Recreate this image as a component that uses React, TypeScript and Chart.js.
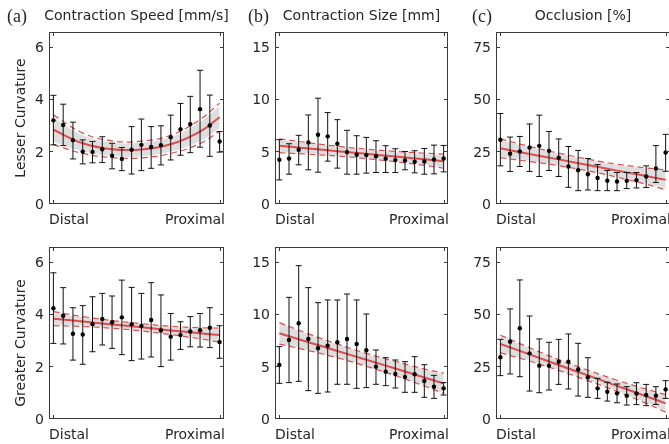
import React, { useEffect, useRef } from "react";
import { Chart, registerables } from "chart.js";
Chart.register(...registerables);

// ---- shared axes data ----
const positions = [1, 2, 3, 4, 5, 6, 7, 8, 9, 10, 11, 12, 13, 14, 15, 16, 17, 18];
const fitX = [1, 4, 7, 10, 13, 16, 18];
const speedTicks = [0, 2, 4, 6];
const sizeTicks = [0, 5, 10, 15];
const occlusionTicks = [0, 25, 50, 75];
const xStartLabel = "Distal";
const xEndLabel = "Proximal";

// ---- (a) Contraction speed, lesser curvature ----
const speedLesserMean = [3.21, 3.03, 2.45, 2.01, 2.0, 2.1, 1.85, 1.73, 2.08, 2.27, 2.19, 2.26, 2.56, 2.87, 3.06, 3.64, 3.01, 2.4];
const speedLesserHigh = [4.17, 3.83, 3.14, 2.46, 2.4, 2.58, 2.33, 2.17, 2.97, 3.26, 2.97, 3.0, 3.41, 3.86, 4.13, 5.13, 4.18, 2.78];
const speedLesserLow = [2.27, 2.24, 1.73, 1.54, 1.58, 1.59, 1.35, 1.28, 1.15, 1.28, 1.37, 1.5, 1.69, 1.87, 1.97, 2.18, 1.83, 1.99];
const speedLesserFit = [2.85, 2.33, 2.1, 2.09, 2.29, 2.78, 3.33];
const speedLesserFitUp = [3.42, 2.72, 2.42, 2.41, 2.64, 3.24, 3.87];
const speedLesserFitLow = [2.28, 1.94, 1.78, 1.77, 1.94, 2.32, 2.79];
const speedLesserBandUp = [3.31, 2.64, 2.36, 2.35, 2.57, 3.15, 3.76];
const speedLesserBandLow = [2.39, 2.02, 1.84, 1.83, 2.01, 2.41, 2.9];

// ---- (b) Contraction size, lesser curvature ----
const sizeLesserMean = [4.24, 4.37, 5.2, 5.91, 6.65, 6.49, 5.78, 4.98, 4.72, 4.69, 4.59, 4.34, 4.21, 4.18, 4.05, 4.08, 4.27, 4.37];
const sizeLesserHigh = [6.17, 5.78, 6.59, 8.54, 10.15, 8.77, 8.09, 7.07, 6.55, 6.39, 6.07, 5.59, 5.3, 5.04, 5.11, 5.33, 5.65, 5.62];
const sizeLesserLow = [2.31, 2.86, 3.76, 3.28, 3.05, 4.11, 3.44, 2.86, 2.86, 2.96, 3.02, 3.02, 3.02, 3.28, 2.99, 2.86, 2.89, 3.08];
const sizeLesserFit = [5.59, 5.33, 5.07, 4.81, 4.55, 4.29, 4.11];
const sizeLesserFitUp = [6.26, 5.88, 5.54, 5.26, 5.04, 4.87, 4.79];
const sizeLesserFitLow = [4.92, 4.78, 4.6, 4.36, 4.06, 3.71, 3.43];
const sizeLesserBandUp = [6.16, 5.8, 5.47, 5.19, 4.97, 4.78, 4.69];
const sizeLesserBandLow = [5.02, 4.86, 4.67, 4.43, 4.13, 3.8, 3.53];

// ---- (c) Occlusion, lesser curvature ----
const occLesserMean = [30.8, 24.1, 25.2, 27.1, 27.9, 25.5, 22.2, 18.0, 16.2, 14.3, 12.5, 11.2, 10.8, 11.1, 11.4, 13.2, 17.0, 24.7];
const occLesserHigh = [43.4, 32.1, 32.4, 38.4, 42.6, 34.8, 31.2, 27.6, 25.7, 21.8, 18.9, 16.1, 15.1, 15.1, 15.1, 18.3, 28.0, 33.4];
const occLesserLow = [18.3, 15.6, 18.0, 15.6, 13.2, 16.1, 13.2, 8.0, 6.4, 6.7, 6.4, 6.4, 6.4, 7.4, 7.7, 7.9, 10.3, 15.7];
const occLesserFit = [26.7, 24.0, 21.4, 18.7, 16.0, 13.4, 11.6];
const occLesserFitUp = [31.2, 27.6, 24.4, 21.5, 19.1, 17.3, 16.4];
const occLesserFitLow = [22.2, 20.4, 18.4, 15.9, 12.9, 9.5, 6.8];
const occLesserBandUp = [30.7, 27.2, 24.1, 21.2, 18.8, 16.9, 15.9];
const occLesserBandLow = [22.7, 20.8, 18.7, 16.2, 13.2, 9.9, 7.3];

// ---- (a) Contraction speed, greater curvature ----
const speedGreaterMean = [4.25, 3.96, 3.27, 3.24, 3.64, 3.84, 3.71, 3.9, 3.64, 3.57, 3.8, 3.4, 3.16, 3.22, 3.36, 3.41, 3.5, 2.95];
const speedGreaterHigh = [5.61, 5.04, 4.27, 4.35, 4.69, 4.82, 4.72, 5.33, 5.05, 4.82, 5.23, 4.76, 4.05, 3.73, 3.93, 4.05, 4.27, 3.58];
const speedGreaterLow = [2.9, 2.88, 2.26, 2.1, 2.58, 2.84, 2.71, 2.47, 2.24, 2.3, 2.38, 2.01, 2.26, 2.67, 2.77, 2.76, 2.74, 2.33];
const speedGreaterFit = [3.85, 3.74, 3.63, 3.52, 3.4, 3.29, 3.22];
const speedGreaterFitUp = [4.12, 3.93, 3.78, 3.66, 3.56, 3.5, 3.49];
const speedGreaterFitLow = [3.58, 3.55, 3.48, 3.38, 3.24, 3.08, 2.95];
const speedGreaterBandUp = [4.08, 3.9, 3.76, 3.64, 3.54, 3.47, 3.45];
const speedGreaterBandLow = [3.62, 3.58, 3.5, 3.4, 3.26, 3.11, 2.99];

// ---- (b) Contraction size, greater curvature ----
const sizeGreaterMean = [5.18, 7.58, 9.18, 7.68, 6.78, 7.04, 7.36, 7.68, 7.2, 6.59, 5.02, 4.54, 4.32, 4.03, 4.29, 3.65, 3.1, 2.94];
const sizeGreaterHigh = [6.94, 11.67, 14.71, 12.6, 11.16, 11.42, 11.42, 11.99, 11.42, 10.07, 6.62, 5.88, 5.66, 5.5, 5.98, 5.21, 4.19, 3.49];
const sizeGreaterLow = [3.42, 3.49, 3.61, 2.72, 2.46, 2.59, 3.33, 3.33, 2.94, 3.01, 3.33, 3.2, 2.97, 2.56, 2.56, 2.08, 1.98, 2.3];
const sizeGreaterFit = [8.22, 7.37, 6.53, 5.68, 4.84, 3.98, 3.42];
const sizeGreaterFitUp = [9.25, 8.17, 7.19, 6.3, 5.52, 4.8, 4.4];
const sizeGreaterFitLow = [7.19, 6.57, 5.87, 5.06, 4.16, 3.16, 2.44];
const sizeGreaterBandUp = [9.2, 8.13, 7.16, 6.27, 5.49, 4.76, 4.35];
const sizeGreaterBandLow = [7.24, 6.61, 5.9, 5.09, 4.19, 3.2, 2.49];

// ---- (c) Occlusion, greater curvature ----
const occGreaterMean = [29.6, 37.1, 43.5, 31.5, 25.6, 25.6, 27.5, 27.5, 23.8, 20.0, 14.7, 13.1, 12.3, 11.2, 12.2, 11.5, 11.2, 14.2];
const occGreaterHigh = [38.2, 52.8, 66.7, 49.4, 38.4, 36.8, 38.2, 40.8, 36.3, 29.4, 19.5, 17.6, 16.8, 15.5, 17.4, 16.6, 15.5, 18.4];
const occGreaterLow = [20.8, 21.6, 20.3, 13.4, 12.6, 13.9, 16.6, 14.4, 11.0, 10.4, 9.9, 8.6, 7.8, 6.7, 6.9, 6.4, 7.0, 9.9];
const occGreaterFit = [36.0, 31.0, 25.9, 20.9, 15.9, 10.9, 7.5];
const occGreaterFitUp = [40.2, 34.2, 28.5, 23.4, 18.6, 14.3, 11.7];
const occGreaterFitLow = [31.8, 27.8, 23.3, 18.4, 13.2, 7.5, 3.3];
const occGreaterBandUp = [39.8, 33.9, 28.2, 23.1, 18.3, 14.0, 11.3];
const occGreaterBandLow = [32.2, 28.1, 23.6, 18.7, 13.5, 7.8, 3.7];

type Panel = {
  mean: number[]; high: number[]; low: number[];
  fit: number[]; fitUp: number[]; fitLow: number[]; bandUp: number[]; bandLow: number[];
  ticks: number[]; yMax: number;
  box: [number, number, number, number];
  tag?: string; tagX?: number; title?: string; rowLabel?: string; rowLabelY?: number;
};

const CW = 700;
const CH = 444;
const SANS = "'DejaVu Sans', Verdana, sans-serif";
const TEXT = "#262626";
const RED = "#e24a4c";

const panels: Panel[] = [
  { mean: speedLesserMean, high: speedLesserHigh, low: speedLesserLow, fit: speedLesserFit, fitUp: speedLesserFitUp, fitLow: speedLesserFitLow, bandUp: speedLesserBandUp, bandLow: speedLesserBandLow, ticks: speedTicks, yMax: 6.6, box: [49, 32, 224, 204], tag: "(a)", tagX: 7, title: "Contraction Speed [mm/s]", rowLabel: "Lesser Curvature", rowLabelY: 118 },
  { mean: sizeLesserMean, high: sizeLesserHigh, low: sizeLesserLow, fit: sizeLesserFit, fitUp: sizeLesserFitUp, fitLow: sizeLesserFitLow, bandUp: sizeLesserBandUp, bandLow: sizeLesserBandLow, ticks: sizeTicks, yMax: 16.5, box: [275, 32, 448, 204], tag: "(b)", tagX: 248, title: "Contraction Size [mm]" },
  { mean: occLesserMean, high: occLesserHigh, low: occLesserLow, fit: occLesserFit, fitUp: occLesserFitUp, fitLow: occLesserFitLow, bandUp: occLesserBandUp, bandLow: occLesserBandLow, ticks: occlusionTicks, yMax: 82.5, box: [496, 32, 670, 204], tag: "(c)", tagX: 472, title: "Occlusion [%]" },
  { mean: speedGreaterMean, high: speedGreaterHigh, low: speedGreaterLow, fit: speedGreaterFit, fitUp: speedGreaterFitUp, fitLow: speedGreaterFitLow, bandUp: speedGreaterBandUp, bandLow: speedGreaterBandLow, ticks: speedTicks, yMax: 6.6, box: [49, 247, 224, 419], rowLabel: "Greater Curvature", rowLabelY: 343 },
  { mean: sizeGreaterMean, high: sizeGreaterHigh, low: sizeGreaterLow, fit: sizeGreaterFit, fitUp: sizeGreaterFitUp, fitLow: sizeGreaterFitLow, bandUp: sizeGreaterBandUp, bandLow: sizeGreaterBandLow, ticks: sizeTicks, yMax: 16.5, box: [275, 247, 448, 419] },
  { mean: occGreaterMean, high: occGreaterHigh, low: occGreaterLow, fit: occGreaterFit, fitUp: occGreaterFitUp, fitLow: occGreaterFitLow, bandUp: occGreaterBandUp, bandLow: occGreaterBandLow, ticks: occlusionTicks, yMax: 82.5, box: [496, 247, 670, 419] },
];

const pts = (xs: number[], ys: number[]) => xs.map((x, i) => ({ x, y: ys[i] }));

function makeDecor(p: Panel) {
  return {
    id: "decor",
    // error bars: after the fit line (index 1) is drawn, before the points (index 0)
    afterDatasetDraw(chart: any, args: any) {
      if (args.index !== 1) return;
      const ctx = chart.ctx;
      const xs = chart.scales.x;
      const ys = chart.scales.y;
      ctx.save();
      ctx.strokeStyle = "#111";
      ctx.lineWidth = 1;
      positions.forEach((pos, i) => {
        const x = xs.getPixelForValue(pos);
        const yh = ys.getPixelForValue(p.high[i]);
        const yl = ys.getPixelForValue(p.low[i]);
        ctx.beginPath();
        ctx.moveTo(x, yh);
        ctx.lineTo(x, yl);
        ctx.moveTo(x - 3, yh);
        ctx.lineTo(x + 3, yh);
        ctx.moveTo(x - 3, yl);
        ctx.lineTo(x + 3, yl);
        ctx.stroke();
      });
      ctx.restore();
    },
    afterDraw(chart: any) {
      const ctx = chart.ctx;
      const xs = chart.scales.x;
      const ys = chart.scales.y;
      const { left, top, right, bottom } = chart.chartArea;
      ctx.save();
      ctx.strokeStyle = "#3a3a3a";
      ctx.lineWidth = 1;
      ctx.strokeRect(left + 0.5, top + 0.5, right - left - 1, bottom - top - 1);
      ctx.beginPath();
      p.ticks.forEach((t) => {
        const y = Math.round(ys.getPixelForValue(t)) - 0.5;
        ctx.moveTo(left, y);
        ctx.lineTo(left + 4, y);
        ctx.moveTo(right, y);
        ctx.lineTo(right - 4, y);
      });
      [positions[0], positions[positions.length - 1]].forEach((v) => {
        const x = Math.round(xs.getPixelForValue(v)) + 0.5;
        ctx.moveTo(x, bottom);
        ctx.lineTo(x, bottom - 4);
        ctx.moveTo(x, top);
        ctx.lineTo(x, top + 4);
      });
      ctx.stroke();
      ctx.fillStyle = TEXT;
      ctx.font = `14px ${SANS}`;
      ctx.textAlign = "right";
      ctx.textBaseline = "middle";
      p.ticks.forEach((t) => {
        ctx.fillText(String(t), left - 5, ys.getPixelForValue(t) + 1);
      });
      ctx.textBaseline = "alphabetic";
      ctx.textAlign = "left";
      ctx.fillText(xStartLabel, left, bottom + 20);
      ctx.textAlign = "right";
      ctx.fillText(xEndLabel, right + 1, bottom + 20);
      if (p.title) {
        ctx.textAlign = "center";
        ctx.fillText(p.title, (left + right) / 2, 20);
      }
      if (p.tag) {
        ctx.font = `18px 'Liberation Serif', 'Times New Roman', serif`;
        ctx.textAlign = "left";
        ctx.fillText(p.tag, p.tagX, 21.5);
      }
      if (p.rowLabel) {
        ctx.font = `14px ${SANS}`;
        ctx.translate(25, p.rowLabelY);
        ctx.rotate(-Math.PI / 2);
        ctx.textAlign = "center";
        ctx.textBaseline = "alphabetic";
        ctx.fillText(p.rowLabel, 0, 0);
      }
      ctx.restore();
    },
  };
}

function PanelChart({ p }: { p: Panel }) {
  const ref = useRef<HTMLCanvasElement>(null);
  useEffect(() => {
    if (!ref.current) return;
    const [L, T, R, B] = p.box;
    // Chart.js paints datasets from the last index to the first, so the band comes last here.
    const chart = new Chart(ref.current, {
      type: "line",
      data: {
        datasets: [
          { data: pts(positions, p.mean), showLine: false, pointRadius: 2.2, pointBackgroundColor: "#000", pointBorderWidth: 0, borderColor: "#000" },
          { data: pts(fitX, p.fit), borderWidth: 2, pointRadius: 0, tension: 0.4, borderColor: RED, fill: false },
          { data: pts(fitX, p.fitUp), borderWidth: 1.2, pointRadius: 0, tension: 0.4, borderColor: RED, borderDash: [6, 4], fill: false },
          { data: pts(fitX, p.fitLow), borderWidth: 1.2, pointRadius: 0, tension: 0.4, borderColor: RED, borderDash: [6, 4], fill: false },
          { data: pts(fitX, p.bandUp), borderWidth: 0, pointRadius: 0, tension: 0.4, fill: false, borderColor: "rgba(0,0,0,0)" },
          { data: pts(fitX, p.bandLow), borderWidth: 0, pointRadius: 0, tension: 0.4, fill: "-1", borderColor: "rgba(0,0,0,0)", backgroundColor: "rgba(200,200,200,0.6)" },
        ] as any,
      },
      options: {
        animation: false,
        responsive: false,
        devicePixelRatio: 1,
        events: [],
        layout: { padding: { left: L, top: T, right: CW - R, bottom: CH - B } },
        plugins: { legend: { display: false }, tooltip: { enabled: false }, title: { display: false } },
        scales: {
          x: { type: "linear", min: 0.55, max: 18.45, display: false },
          y: { type: "linear", min: 0, max: p.yMax, display: false },
        },
      } as any,
      plugins: [makeDecor(p)],
    });
    return () => chart.destroy();
  }, [p]);
  return <canvas ref={ref} width={CW} height={CH} style={{ position: "absolute", left: 0, top: 0, width: CW, height: CH }} />;
}

export default function App() {
  return (
    <div style={{ position: "absolute", left: 0, top: 0, width: 669, height: 444, overflow: "hidden", background: "#fff" }}>
      {panels.map((p, i) => (
        <PanelChart key={i} p={p} />
      ))}
    </div>
  );
}
